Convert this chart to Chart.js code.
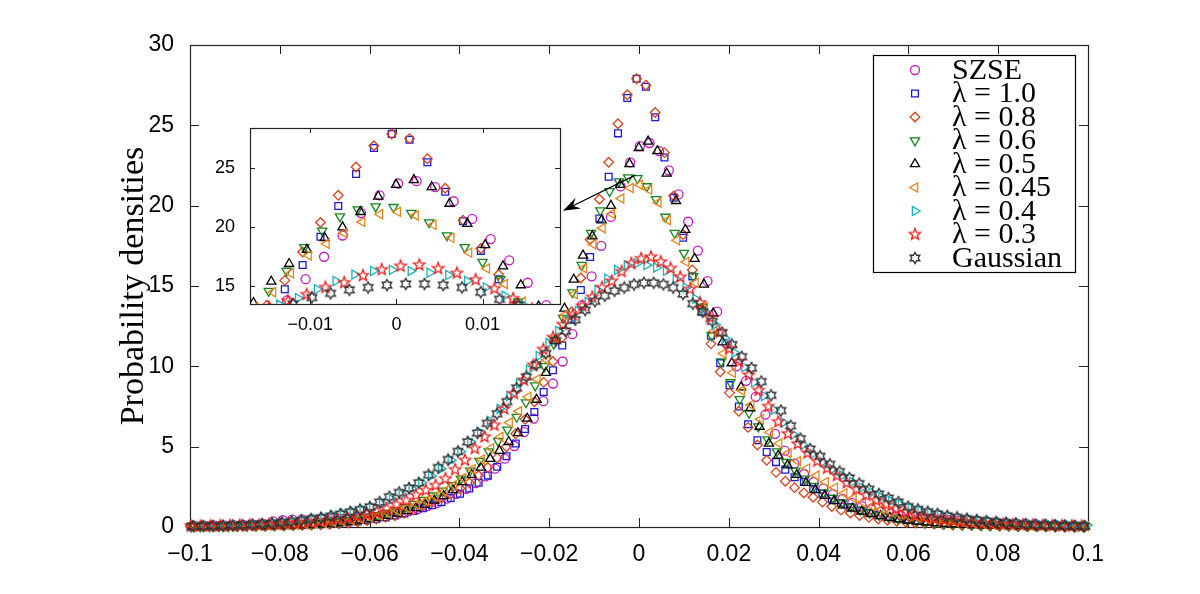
<!DOCTYPE html>
<html>
<head>
<meta charset="utf-8">
<script src="https://cdn.jsdelivr.net/npm/chart.js@4.4.1/dist/chart.umd.min.js"></script>
<style>
  html, body { margin: 0; padding: 0; background: #fff; }
  #wrap { position: relative; width: 1200px; height: 594px; }
  #main { position: absolute; left: 0; top: 0; }
  #inset { position: absolute; left: 190px; top: 110px; }
</style>
</head>
<body>
<div id="wrap">
  <canvas id="main" width="1200" height="594"></canvas>
  <canvas id="inset" width="390" height="240"></canvas>
</div>
<script>
// axis ranges and ticks
const xRange = [-0.1, 0.1];
const yRange = [0, 30];
const xTicks = [-0.1, -0.08, -0.06, -0.04, -0.02, 0, 0.02, 0.04, 0.06, 0.08, 0.1];
const yTicks = [0, 5, 10, 15, 20, 25, 30];
const insetXRange = [-0.017, 0.019];
const insetYRange = [13.5, 28.4];
const insetXTicks = [-0.01, 0, 0.01];
const insetYTicks = [15, 20, 25];

const labels = ['SZSE', 'λ = 1.0', 'λ = 0.8', 'λ = 0.6', 'λ = 0.5', 'λ = 0.45', 'λ = 0.4', 'λ = 0.3', 'Gaussian'];

// histogram bins of each series: centre of the first bin, bin width
const binStart = [-0.0987, -0.0999, -0.0999, -0.0997, -0.0994, -0.0992, -0.0986, -0.0998, -0.0992];
const binWidth = [0.00215, 0.00207, 0.00207, 0.00207, 0.00207, 0.00207, 0.00218, 0.00218, 0.00218];

const szse = [0.06,0.07,0.08,0.09,0.1,0.12,0.15,0.2,0.35,0.42,
  0.46,0.48,0.5,0.5,0.5,0.5,0.52,0.55,0.6,0.67,
  0.75,0.85,0.97,1.12,1.3,1.5,1.76,2.07,2.38,2.73,
  3.15,3.63,4.25,5.04,5.91,6.75,7.83,8.93,10.3,12.0,
  13.8,15.6,17.5,19.3,21.2,22.7,23.7,23.9,23.4,22.2,
  20.7,19.0,17.2,15.3,13.4,11.4,10.0,9.1,8.1,7.0,
  5.8,4.75,3.95,3.3,2.8,2.4,2.05,1.75,1.5,1.28,
  1.1,0.95,0.83,0.73,0.65,0.58,0.52,0.47,0.43,0.4,
  0.37,0.34,0.31,0.28,0.25,0.22,0.2,0.18,0.16,0.14,
  0.12,0.1,0.09];

const lam10 = [0.03,0.03,0.04,0.04,0.05,0.05,0.06,0.07,0.08,0.09,
  0.1,0.11,0.13,0.15,0.18,0.21,0.25,0.3,0.35,0.42,
  0.5,0.6,0.72,0.85,1.0,1.17,1.35,1.55,1.8,2.07,
  2.4,2.75,3.2,3.75,4.4,5.2,6.1,7.16,8.4,9.76,
  11.3,12.9,14.75,16.8,19.2,21.8,24.5,26.7,27.9,27.4,
  25.5,23.0,20.5,18.0,15.6,13.4,11.9,10.2,8.83,7.5,
  6.4,5.4,4.67,4.04,3.57,3.1,2.8,2.38,2.07,1.76,
  1.49,1.24,1.03,0.87,0.74,0.63,0.54,0.46,0.4,0.34,
  0.29,0.25,0.22,0.19,0.16,0.14,0.12,0.11,0.1,0.09,
  0.08,0.07,0.06,0.05,0.05,0.04,0.04];

const lam08 = [0.02,0.02,0.03,0.03,0.03,0.04,0.04,0.05,0.06,0.07,
  0.08,0.09,0.1,0.12,0.14,0.17,0.2,0.25,0.32,0.4,
  0.5,0.6,0.7,0.85,1.05,1.3,1.55,1.8,2.05,2.4,
  2.75,3.2,3.7,4.3,5.0,5.8,6.7,7.8,9.0,10.3,
  11.8,13.4,15.5,17.9,20.4,22.7,25.1,26.9,27.9,27.5,
  25.8,23.3,20.6,18.2,16.0,13.6,11.4,9.66,8.35,7.2,
  6.2,5.1,4.15,3.4,2.85,2.45,2.12,1.85,1.55,1.28,
  1.05,0.87,0.72,0.6,0.5,0.42,0.35,0.3,0.25,0.21,
  0.18,0.15,0.13,0.11,0.1,0.09,0.08,0.07,0.06,0.05,
  0.05,0.04,0.04,0.03,0.03,0.03,0.02];

const lam06 = [0.03,0.04,0.04,0.05,0.05,0.06,0.07,0.08,0.09,0.1,
  0.12,0.14,0.17,0.2,0.24,0.29,0.35,0.42,0.51,0.61,
  0.73,0.87,1.03,1.22,1.43,1.68,1.95,2.25,2.6,3.0,
  3.5,4.1,4.7,5.35,6.05,6.85,7.75,8.8,10.0,11.4,
  13.0,14.6,16.3,18.3,19.7,20.9,21.5,21.75,21.7,21.2,
  20.4,19.3,18.3,17.05,15.6,13.7,11.9,10.3,9.0,7.95,
  7.1,6.25,5.45,4.7,4.05,3.5,3.0,2.55,2.15,1.8,
  1.5,1.25,1.05,0.88,0.74,0.62,0.52,0.44,0.37,0.31,
  0.26,0.22,0.19,0.16,0.14,0.12,0.1,0.09,0.08,0.07,
  0.06,0.05,0.05,0.04,0.04,0.03,0.03];

const lam05 = [0.03,0.03,0.03,0.04,0.04,0.05,0.05,0.06,0.07,0.08,
  0.09,0.1,0.12,0.15,0.18,0.22,0.27,0.33,0.4,0.48,
  0.58,0.7,0.84,1.0,1.18,1.4,1.65,1.93,2.3,2.8,
  3.25,3.7,4.25,4.75,5.3,5.85,6.75,7.93,9.6,11.6,
  13.6,15.4,16.9,18.1,19.1,20.0,21.3,22.6,23.6,24.0,
  23.4,22.0,20.3,18.5,16.7,15.1,13.3,11.5,10.2,8.7,
  7.4,6.25,5.2,4.45,3.85,3.25,2.75,2.3,1.95,1.62,
  1.35,1.15,0.97,0.82,0.69,0.58,0.49,0.41,0.35,0.3,
  0.25,0.21,0.18,0.15,0.13,0.11,0.1,0.09,0.08,0.07,
  0.06,0.05,0.05,0.04,0.04,0.03,0.03];

const lam045 = [0.03,0.04,0.04,0.05,0.05,0.06,0.07,0.08,0.09,0.1,
  0.12,0.14,0.17,0.21,0.25,0.3,0.36,0.43,0.51,0.61,
  0.72,0.85,1.0,1.18,1.38,1.62,1.9,2.22,2.6,3.05,
  3.6,4.2,4.9,5.6,6.5,7.2,8.1,9.2,10.4,11.8,
  13.2,14.5,16.1,17.6,18.6,19.5,20.45,21.1,21.3,21.0,
  20.2,19.1,17.85,16.5,15.2,13.7,12.2,10.8,9.6,8.5,
  7.6,6.7,5.9,5.2,4.6,4.1,3.65,3.2,2.8,2.45,
  2.1,1.8,1.55,1.3,1.1,0.93,0.79,0.67,0.57,0.48,
  0.41,0.35,0.3,0.25,0.21,0.18,0.15,0.13,0.11,0.1,
  0.09,0.08,0.07,0.06,0.05,0.05,0.04];

const lam04 = [0.06,0.07,0.08,0.09,0.11,0.13,0.16,0.2,0.25,0.31,
  0.38,0.45,0.53,0.63,0.74,0.86,0.98,1.1,1.25,1.45,
  1.72,2.03,2.38,2.77,3.18,3.63,4.15,4.7,5.3,5.9,
  6.6,7.35,8.15,8.95,9.8,10.65,11.45,12.2,12.85,13.45,
  14.0,14.75,15.45,16.0,16.3,16.4,16.3,16.15,15.95,15.45,
  14.9,14.2,13.4,12.6,11.75,10.85,9.95,9.0,8.15,7.3,
  6.5,5.75,5.1,4.55,4.05,3.6,3.2,2.8,2.45,2.15,
  1.87,1.62,1.42,1.2,1.02,0.88,0.76,0.66,0.57,0.5,
  0.44,0.39,0.34,0.3,0.27,0.24,0.21,0.19,0.17,0.15,
  0.13,0.11];

const lam03 = [0.05,0.06,0.07,0.08,0.09,0.1,0.11,0.13,0.15,0.17,
  0.2,0.24,0.29,0.34,0.4,0.48,0.57,0.68,0.8,0.95,
  1.14,1.39,1.65,1.97,2.28,2.59,3.0,3.57,4.15,4.88,
  5.6,6.33,7.35,8.3,9.14,10.07,11.05,11.8,12.6,13.2,
  13.75,14.3,14.9,15.3,15.9,16.4,16.7,16.8,16.5,16.1,
  15.55,14.8,13.95,13.05,12.1,11.1,10.3,9.45,8.5,7.5,
  6.55,5.8,5.17,4.6,4.1,3.65,3.2,2.75,2.35,1.97,
  1.65,1.4,1.13,0.92,0.75,0.62,0.52,0.44,0.38,0.33,
  0.28,0.24,0.2,0.17,0.15,0.13,0.11,0.09,0.08,0.07,
  0.06,0.05];

const gaussian = [0.05,0.06,0.07,0.08,0.1,0.12,0.15,0.18,0.22,0.27,
  0.33,0.4,0.48,0.57,0.68,0.8,0.93,1.08,1.25,1.55,
  1.88,2.15,2.42,2.75,3.25,3.7,4.2,4.7,5.3,5.85,
  6.45,7.05,7.8,8.65,9.35,10.1,10.8,11.6,12.2,12.9,
  13.5,14.05,14.4,14.7,14.9,15.1,15.2,15.2,15.1,14.9,
  14.5,13.9,13.4,12.8,12.1,11.35,10.6,9.9,9.05,8.2,
  7.25,6.3,5.5,4.85,4.4,3.9,3.45,3.05,2.7,2.35,
  2.05,1.8,1.55,1.27,1.1,0.95,0.82,0.7,0.6,0.51,
  0.43,0.36,0.3,0.25,0.21,0.17,0.14,0.11,0.09,0.07,
  0.06,0.05];

const densities = [szse, lam10, lam08, lam06, lam05, lam045, lam04, lam03, gaussian];

// where the arrow starts (main axes) and the height it points at on the inset edge
const arrowFrom = [-0.0008, 21.9];
const arrowToY = 21.4;

const colors = ['#c818c8', '#1a1ad8', '#d6441a', '#15861a', '#000000', '#e4861a', '#18b4c0', '#f01818', '#303030'];
const markLine = 1.3;

function starMark(n, outer, inner, color) {
  const size = Math.ceil(outer * 2 + 4);
  const c = document.createElement('canvas');
  c.width = c.height = size;
  const g = c.getContext('2d');
  g.translate(size / 2, size / 2);
  g.beginPath();
  for (let k = 0; k < n * 2; k++) {
    const r = k % 2 ? inner : outer;
    const a = -Math.PI / 2 + k * Math.PI / n;
    g.lineTo(r * Math.cos(a), r * Math.sin(a));
  }
  g.closePath();
  g.strokeStyle = color;
  g.lineWidth = markLine;
  g.lineJoin = 'miter';
  g.stroke();
  return c;
}

const marks = [
  { style: 'circle', radius: 4.5, rotation: 0 },
  { style: 'rect', radius: 4.8, rotation: 0 },
  { style: 'rectRot', radius: 4.8, rotation: 0 },
  { style: 'triangle', radius: 5.3, rotation: 180 },
  { style: 'triangle', radius: 5.3, rotation: 0 },
  { style: 'triangle', radius: 5.3, rotation: 270 },
  { style: 'triangle', radius: 5.3, rotation: 90 },
  { style: starMark(5, 6, 2.5, colors[7]), radius: 5, rotation: 0 },
  { style: starMark(6, 5.6, 3.2, colors[8]), radius: 5, rotation: 0 },
];

function buildDatasets(clip) {
  return densities.map((ys, s) => ({
    label: labels[s],
    data: ys.map((v, i) => ({ x: binStart[s] + i * binWidth[s], y: v })),
    showLine: false,
    pointStyle: marks[s].style,
    pointRadius: marks[s].radius,
    pointRotation: marks[s].rotation,
    pointBorderColor: colors[s],
    pointBackgroundColor: 'rgba(0,0,0,0)',
    borderColor: colors[s],
    backgroundColor: 'rgba(0,0,0,0)',
    pointBorderWidth: markLine,
    order: densities.length - s,
    clip: clip,
  }));
}

function fmt(v) {
  const r = Math.round(v * 1000) / 1000;
  if (r === 0) return '0';
  return (r < 0 ? '\u2212' : '') + String(Math.abs(r));
}

// box round the axes with inward ticks on all four sides
const framePlugin = {
  id: 'frame',
  beforeDatasetsDraw(chart, args, opts) {
    const { ctx, chartArea: a, scales } = chart;
    ctx.save();
    if (opts.fill) {
      ctx.fillStyle = '#fff';
      ctx.fillRect(a.left, a.top, a.right - a.left, a.bottom - a.top);
    }
    ctx.strokeStyle = '#222';
    ctx.lineWidth = 1;
    ctx.beginPath();
    scales.x.ticks.forEach(t => {
      const p = Math.round(scales.x.getPixelForValue(t.value)) + 0.5;
      ctx.moveTo(p, a.bottom); ctx.lineTo(p, a.bottom - opts.len);
      ctx.moveTo(p, a.top); ctx.lineTo(p, a.top + opts.len);
    });
    scales.y.ticks.forEach(t => {
      const p = Math.round(scales.y.getPixelForValue(t.value)) + 0.5;
      ctx.moveTo(a.left, p); ctx.lineTo(a.left + opts.len, p);
      ctx.moveTo(a.right, p); ctx.lineTo(a.right - opts.len, p);
    });
    ctx.stroke();
    ctx.lineWidth = 1.2;
    ctx.strokeRect(Math.round(a.left) + 0.5, Math.round(a.top) + 0.5,
      Math.round(a.right - a.left), Math.round(a.bottom - a.top));
    ctx.restore();
  }
};

function drawMark(ctx, ds, x, y) {
  ctx.strokeStyle = ds.pointBorderColor;
  ctx.fillStyle = 'rgba(0,0,0,0)';
  ctx.lineWidth = markLine;
  Chart.helpers.drawPoint(ctx, {
    pointStyle: ds.pointStyle, radius: ds.pointRadius,
    rotation: ds.pointRotation, borderWidth: markLine
  }, x, y);
}

const legendPlugin = {
  id: 'boxLegend',
  afterDraw(chart, args, o) {
    const ctx = chart.ctx;
    ctx.save();
    ctx.fillStyle = '#fff';
    ctx.fillRect(o.left, o.top, o.width, o.height);
    ctx.strokeStyle = '#000';
    ctx.lineWidth = 1.2;
    ctx.strokeRect(o.left + 0.5, o.top + 0.5, o.width, o.height);
    ctx.font = o.font;
    ctx.textBaseline = 'middle';
    chart.data.datasets.forEach((ds, i) => {
      const y = o.top + o.firstRow + i * o.rowH;
      drawMark(ctx, ds, o.markX, y);
      ctx.fillStyle = '#000';
      ctx.fillText(ds.label, o.textX, y + 1);
    });
    ctx.restore();
  }
};

let insetChart = null;
const insetCanvas = document.getElementById('inset');

const arrowPlugin = {
  id: 'arrow',
  afterDatasetsDraw(chart) {
    if (!insetChart) return;
    const { x, y } = chart.scales;
    const x0 = x.getPixelForValue(arrowFrom[0]);
    const y0 = y.getPixelForValue(arrowFrom[1]);
    const x1 = insetCanvas.offsetLeft + insetChart.chartArea.right + 3;
    const y1 = insetCanvas.offsetTop + insetChart.scales.y.getPixelForValue(arrowToY);
    const ang = Math.atan2(y1 - y0, x1 - x0);
    const ctx = chart.ctx;
    ctx.save();
    ctx.strokeStyle = '#000';
    ctx.fillStyle = '#000';
    ctx.lineWidth = 1.3;
    ctx.beginPath();
    ctx.moveTo(x0, y0);
    ctx.lineTo(x1 - 10 * Math.cos(ang), y1 - 10 * Math.sin(ang));
    ctx.stroke();
    ctx.translate(x1, y1);
    ctx.rotate(ang);
    ctx.beginPath();
    ctx.moveTo(0, 0);
    ctx.lineTo(-17, -6);
    ctx.lineTo(-11, 0);
    ctx.lineTo(-17, 6);
    ctx.closePath();
    ctx.fill();
    ctx.restore();
  }
};

Chart.defaults.font.family = '"Liberation Sans", Arial, sans-serif';
Chart.defaults.color = '#000';

function axis(range, ticks, fontSize, pad, size, dim, extra) {
  return Object.assign({
    type: 'linear',
    min: range[0],
    max: range[1],
    grid: { display: false },
    border: { display: false },
    afterBuildTicks: s => { s.ticks = ticks.map(v => ({ value: v })); },
    afterFit: s => { s[dim] = size; },
    ticks: { font: { size: fontSize }, padding: pad, maxRotation: 0, autoSkip: false, callback: v => fmt(v) },
  }, extra || {});
}

insetChart = new Chart(insetCanvas, {
  type: 'scatter',
  data: { datasets: buildDatasets(0) },
  options: {
    responsive: false,
    animation: false,
    events: [],
    devicePixelRatio: 1,
    layout: { padding: { top: 18, right: 20, left: 0, bottom: 0 } },
    scales: {
      x: axis(insetXRange, insetXTicks, 18, 2, 46, 'height'),
      y: axis(insetYRange, insetYTicks, 18, 7, 60, 'width'),
    },
    plugins: {
      legend: { display: false },
      tooltip: { enabled: false },
      frame: { len: 5, fill: true },
    },
  },
  plugins: [framePlugin],
});

new Chart(document.getElementById('main'), {
  type: 'scatter',
  data: { datasets: buildDatasets(8) },
  options: {
    responsive: false,
    animation: false,
    events: [],
    devicePixelRatio: 1,
    layout: { padding: { top: 45, right: 112, left: 0, bottom: 0 } },
    scales: {
      x: axis(xRange, xTicks, 23, 6, 67, 'height'),
      y: axis(yRange, yTicks, 23, 8, 190, 'width', {
        title: {
          display: true,
          text: 'Probability densities',
          font: { family: '"Liberation Serif", "Times New Roman", serif', size: 34 },
          padding: { top: 114, bottom: 0 },
        },
      }),
    },
    plugins: {
      legend: { display: false },
      tooltip: { enabled: false },
      frame: { len: 9, fill: false },
      boxLegend: {
        left: 873, top: 55, width: 202, height: 217,
        firstRow: 15, rowH: 23.5, markX: 915, textX: 952,
        font: '30px "Liberation Serif", "Times New Roman", serif',
      },
    },
  },
  plugins: [framePlugin, arrowPlugin, legendPlugin],
});
</script>
</body>
</html>
